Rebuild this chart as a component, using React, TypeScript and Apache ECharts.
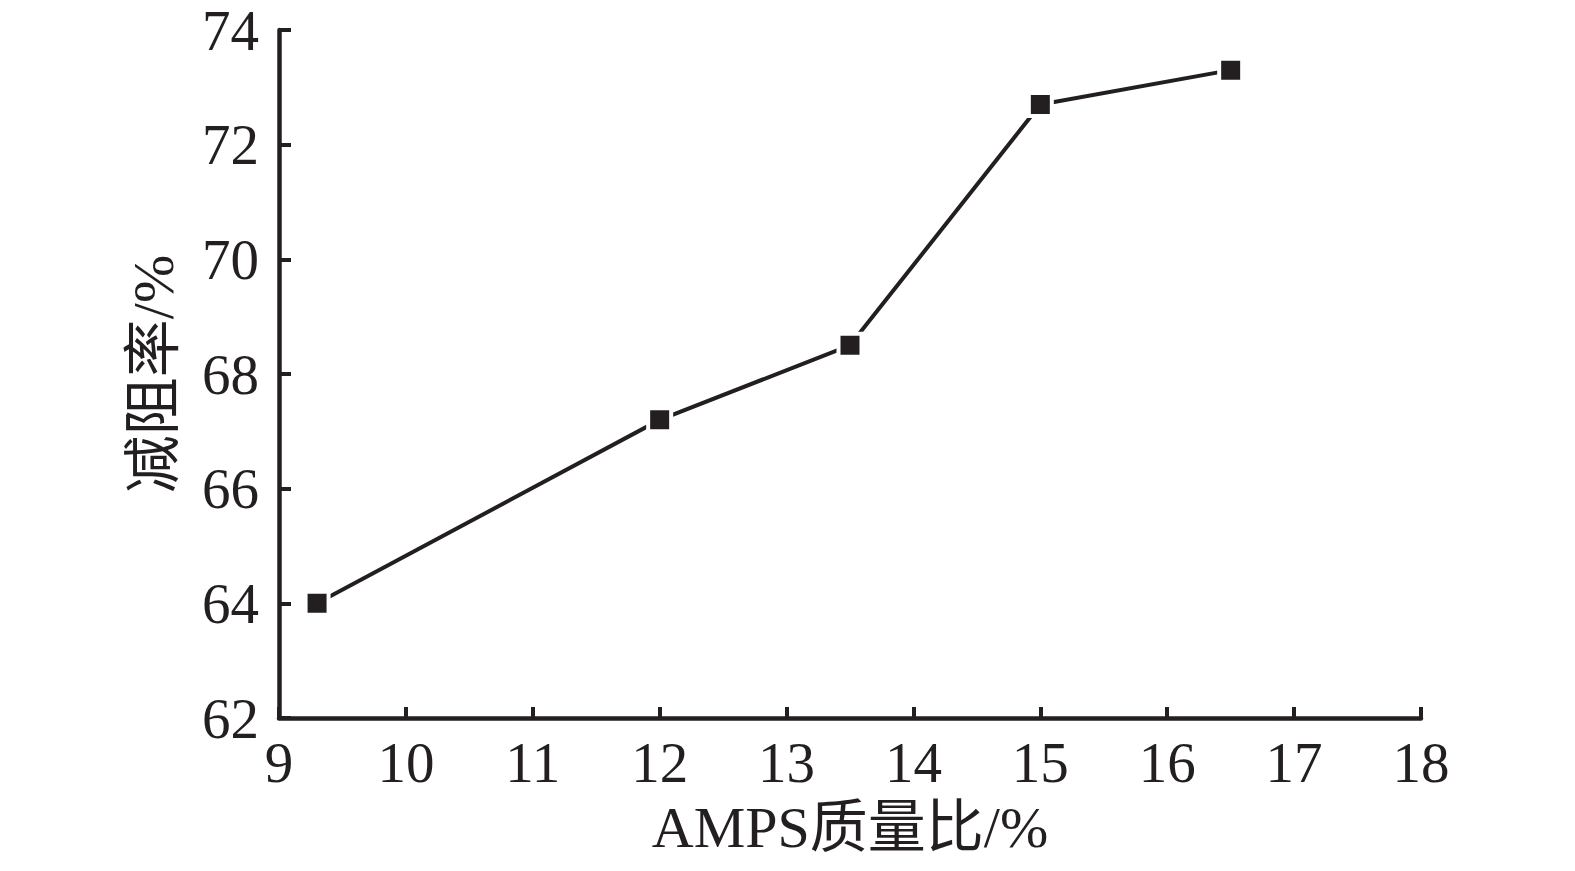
import React, { useEffect, useRef } from "react";
import * as echarts from "echarts";

const xValues = [9.3, 12, 13.5, 15, 16.5];
const yValues = [64, 67.2, 68.5, 72.7, 73.3];
const xName = "AMPS质量比/%";
const yName = "减阻率/%";

const INK = "#231f20";
const FONT = "'Liberation Serif', 'Noto Sans CJK SC', serif";

export default function App() {
  const ref = useRef<HTMLDivElement>(null);
  useEffect(() => {
    document.body.style.margin = "0";
    const chart = echarts.init(ref.current!, null, { renderer: "svg" });
    chart.setOption({
      animation: false,
      backgroundColor: "#ffffff",
      grid: { left: 279, right: 154, top: 30, bottom: 153 },
      xAxis: {
        type: "value",
        min: 9,
        max: 18,
        interval: 1,
        name: xName,
        nameLocation: "middle",
        nameGap: 80,
        nameTextStyle: { color: INK, fontSize: 58, fontFamily: FONT },
        axisLine: { show: true, lineStyle: { color: INK, width: 4.5 } },
        axisTick: { show: true, inside: true, length: 11, lineStyle: { color: INK, width: 4 } },
        axisLabel: { color: INK, fontSize: 57, fontFamily: FONT, margin: 16 },
        splitLine: { show: false },
      },
      yAxis: {
        type: "value",
        min: 62,
        max: 74,
        interval: 2,
        name: yName,
        nameLocation: "middle",
        nameGap: 97,
        nameTextStyle: { color: INK, fontSize: 58, fontFamily: FONT },
        axisLine: { show: true, lineStyle: { color: INK, width: 4.5 } },
        axisTick: { show: true, inside: true, length: 12, lineStyle: { color: INK, width: 4 } },
        axisLabel: { color: INK, fontSize: 57, fontFamily: FONT, margin: 20 },
        splitLine: { show: false },
      },
      series: [
        {
          type: "line",
          data: xValues.map((x, i) => [x, yValues[i]]),
          symbol: "rect",
          symbolSize: 23,
          itemStyle: { color: INK, borderColor: "#ffffff", borderWidth: 4 },
          lineStyle: { color: INK, width: 4 },
        },
      ],
    });
    return () => chart.dispose();
  }, []);
  return <div ref={ref} style={{ width: 1575, height: 871 }} />;
}
